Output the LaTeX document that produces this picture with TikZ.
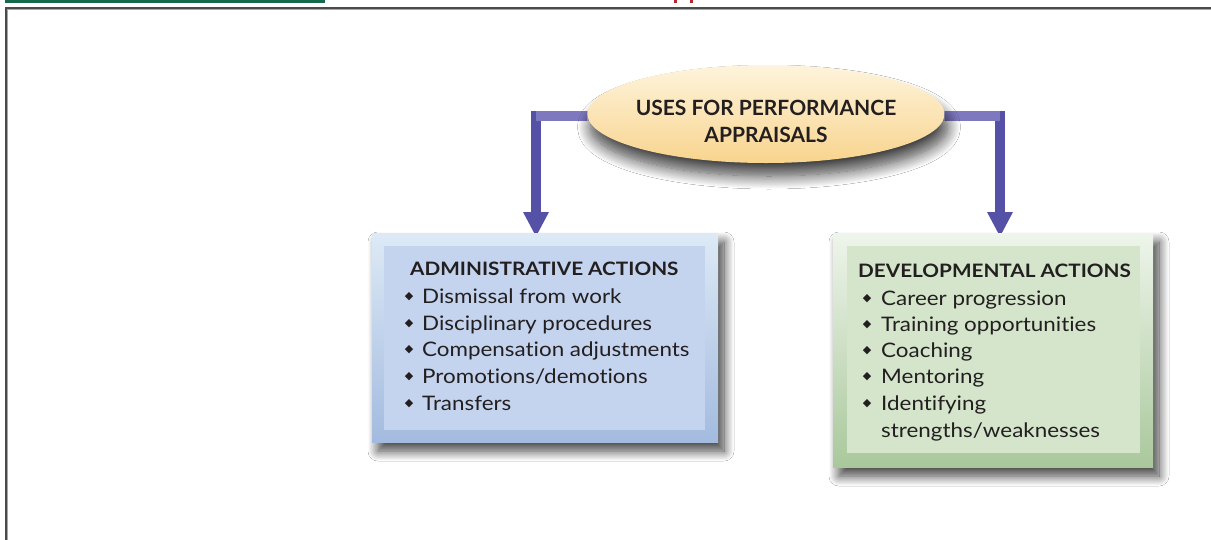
\documentclass[tikz,border=0pt]{standalone}
\usepackage{fontspec}
\setmainfont{Lato}[Ligatures=NoCommon]
\newfontfamily\boxfont{Lato}[FakeStretch=1.12, Ligatures=NoCommon]
\newfontfamily\symfont{DejaVu Sans}
\usetikzlibrary{shadows.blur,arrows.meta,shapes.geometric}
\definecolor{txt}{HTML}{231F20}
\definecolor{arrowc}{HTML}{5551A6}
\definecolor{arrowlight}{HTML}{9A92D0}
\definecolor{framec}{HTML}{4A4A4A}
\definecolor{greenbar}{HTML}{13694A}
\definecolor{redmark}{HTML}{B3282D}
\definecolor{bluetop}{HTML}{DDEAF6}
\definecolor{bluebot}{HTML}{A3BBDF}
\definecolor{blueinner}{HTML}{C4D4EE}
\definecolor{greentop}{HTML}{EEF5EB}
\definecolor{greenbot}{HTML}{AAC89C}
\definecolor{greeninner}{HTML}{D4E5CB}
\definecolor{elltop}{HTML}{FEF4DC}
\definecolor{ellbot}{HTML}{F8D48E}
\tikzset{
  outerbox/.style={rectangle, inner sep=0pt, draw=none,
    blur shadow={shadow xshift=6pt, shadow yshift=-9pt, shadow blur radius=10pt, shadow blur steps=16, shadow opacity=75}},
  innerbox/.style={rectangle, inner sep=0pt, draw=none},
  ellbox/.style={ellipse, inner sep=0pt, draw=none, top color=elltop, bottom color=ellbot,
    blur shadow={shadow xshift=3pt, shadow yshift=-13pt, shadow blur radius=13pt, shadow blur steps=16, shadow opacity=75}},
  conn/.style={draw=arrowc, line width=10pt, line join=miter,
    -{Triangle[width=24pt,length=25pt]}},
  title/.style={anchor=base, text=txt, inner sep=0pt, font=\fontsize{21}{25}\selectfont\bfseries},
  boxtitle/.style={anchor=base west, text=txt, inner sep=0pt, font=\boxfont\fontsize{18.5}{22}\selectfont\bfseries},
  item/.style={anchor=base west, text=txt, inner sep=0pt, font=\boxfont\fontsize{20}{24}\selectfont},
  bullet/.style={anchor=center, text=txt, inner sep=0pt, font=\symfont\fontsize{11}{11}\selectfont},
}
\begin{document}
\begin{tikzpicture}[x=1pt,y=-1pt]
\useasboundingbox (0,0) rectangle (1211,539);
\fill[white] (0,0) rectangle (1211,539);
% top strip and frame
\fill[greenbar] (5,0) rectangle (325,3);
\fill[redmark] (674,0) rectangle (677,3);
\fill[redmark] (690,0) rectangle (693,3);
\draw[framec, line width=2pt] (6,545) -- (6,8) -- (1220,8);
\draw[black!35, line width=0.6pt] (7.6,545) -- (7.6,9.6) -- (1220,9.6);

% coordinates for arrow tips
\coordinate (tipL) at (536,237);
\coordinate (tipR) at (1000,237);

% ellipse reference (for connector ends)
\path (766,114) node[ellipse, minimum width=357pt, minimum height=98pt, inner sep=0pt] (ellref) {};

% connectors
\draw[conn] ([yshift=-2pt]ellref.west) -| (tipL);
\draw[conn] ([yshift=-2pt]ellref.east) -| (tipR);
\draw[arrowlight, opacity=0.6, line width=10pt] ([yshift=-2pt,xshift=20pt]ellref.west) -- ([yshift=-2pt]ellref.west -| tipL);
\draw[arrowlight, opacity=0.6, line width=10pt] ([yshift=-2pt,xshift=-20pt]ellref.east) -- ([yshift=-2pt]ellref.east -| tipR);

% ellipse
\node[ellbox, minimum width=357pt, minimum height=98pt] (ell) at (766,114) {};
\node[title] (t1) at (766,115) {USES FOR PERFORMANCE};
\node[title] (t2) at (766,142) {APPRAISALS};

% administrative box
\node[outerbox, minimum width=346pt, minimum height=209pt, top color=bluetop, bottom color=bluebot] (admout) at (545,337.5) {};
\node[innerbox, minimum width=321pt, minimum height=184pt, fill=blueinner] (admin) at (544.5,338) {};
\node[boxtitle] (admt) at (410,275) {ADMINISTRATIVE ACTIONS};
\foreach \i/\b/\t in {1/303/{Dismissal from work}, 2/330/{Disciplinary procedures}, 3/356/{Compensation adjustments}, 4/383/{Promotions/demotions}, 5/410/{Transfers}}{
  \node[item] (adm\i) at (422,\b) {\t};
  \node[bullet] (admb\i) at (409,\b-6) {◆};
}

% developmental box
\node[outerbox, minimum width=320pt, minimum height=234pt, top color=greentop, bottom color=greenbot] (devout) at (993,350) {};
\node[innerbox, minimum width=293pt, minimum height=207pt, fill=greeninner] (devin) at (993.5,349.5) {};
\node[boxtitle] (devt) at (858,277) {DEVELOPMENTAL ACTIONS};
\foreach \i/\b/\t in {1/305/{Career progression}, 2/331/{Training opportunities}, 3/357/{Coaching}, 4/383/{Mentoring}, 5/410/{Identifying}}{
  \node[item] (dev\i) at (881,\b) {\t};
  \node[bullet] (devb\i) at (867,\b-6) {◆};
}
\node[item] (dev6) at (881,437) {strengths/weaknesses};
\end{tikzpicture}
\end{document}
